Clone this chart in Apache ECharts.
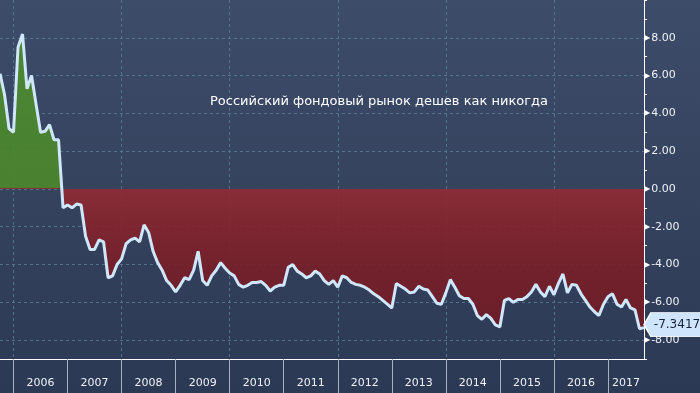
<!DOCTYPE html>
<html><head><meta charset="utf-8">
<script src="https://cdn.jsdelivr.net/npm/echarts@6/dist/echarts.min.js"></script>
<style>html,body{margin:0;padding:0;background:#34425e}#c{width:700px;height:393px}</style>
</head><body><div id="c"></div>
<script>
// First category: October 2005, monthly to September 2017
const startYear = 2005;
const startMonth = 10;
const values = [
  6.1, 5.0, 3.2, 3.0, 7.5, 8.2, 5.3, 6.0, 4.5, 3.0, 3.05, 3.4,
  2.6, 2.6, -1.0, -0.85, -1.0, -0.8, -0.85, -2.5, -3.2, -3.2, -2.7, -2.8,
  -4.7, -4.6, -4.0, -3.7, -2.9, -2.7, -2.6, -2.8, -1.9, -2.3, -3.3, -3.9,
  -4.3, -4.85, -5.1, -5.45, -5.1, -4.7, -4.8, -4.3, -3.3, -4.85, -5.1, -4.6,
  -4.3, -3.9, -4.2, -4.45, -4.6, -5.05, -5.2, -5.1, -4.95, -4.95, -4.9, -5.1,
  -5.4, -5.2, -5.1, -5.1, -4.15, -4.0, -4.35, -4.5, -4.7, -4.6, -4.35, -4.5,
  -4.85, -5.05, -4.85, -5.2, -4.6, -4.7, -4.95, -5.05, -5.1, -5.2, -5.35, -5.55,
  -5.7, -5.9, -6.1, -6.3, -5.0, -5.15, -5.3, -5.5, -5.45, -5.15, -5.3, -5.35,
  -5.7, -6.05, -6.1, -5.5, -4.8, -5.2, -5.65, -5.8, -5.8, -6.1, -6.7, -6.9,
  -6.65, -6.85, -7.2, -7.3, -5.9, -5.8, -6.0, -5.85, -5.85, -5.7, -5.45, -5.05,
  -5.45, -5.7, -5.15, -5.6, -5.0, -4.5, -5.5, -5.05, -5.1, -5.55, -5.9, -6.25,
  -6.5, -6.7, -6.1, -5.7, -5.55, -6.1, -6.25, -5.85, -6.3, -6.4, -7.4, -7.3417
];
const yLabelValues = [-8, -6, -4, -2, 0, 2, 4, 6, 8];
const chartTitle = 'Российский фондовый рынок дешев как никогда';

const months = [];
for (let i = 0; i < values.length; i++) {
  const k = startMonth - 1 + i;
  const y = startYear + Math.floor(k / 12);
  const m = k % 12 + 1;
  months.push(y + '-' + String(m).padStart(2, '0'));
}
// year label position: middle of each year's visible months
const yearIdx = {};
months.forEach((mm, i) => { const y = mm.slice(0, 4); (yearIdx[y] = yearIdx[y] || []).push(i); });
const labelIdx = new Set();
Object.keys(yearIdx).forEach(y => {
  const arr = yearIdx[y];
  if (arr.length >= 6) labelIdx.add(Math.floor((arr[0] + arr[arr.length - 1] + 1) / 2));
});
const lastIdx = values.length - 1;

const H = 393;
const red = (py, c) => ({ offset: py / H, color: c });
const areaGrad = {
  type: 'linear', x: 0, y: 0, x2: 0, y2: H, global: true,
  colorStops: [
    red(0, '#4f8c2f'), red(187.5, '#4a862c'),
    red(187.6, '#8f2b34'), red(205, '#8a2830'), red(230, '#82232c'),
    red(265, '#781f28'), red(330, '#701b24'), red(393, '#6a1921')
  ]
};

const chart = echarts.init(document.getElementById('c'));
chart.setOption({
  animation: false,
  backgroundColor: { type: 'linear', x: 0, y: 0, x2: 0, y2: 1,
    colorStops: [{ offset: 0, color: '#3d4c69' }, { offset: 1, color: '#2c3954' }] },
  title: { text: chartTitle, left: 205, top: 90,
    textStyle: { color: '#ffffff', fontSize: 13, fontWeight: 'normal', fontFamily: 'DejaVu Sans' } },
  grid: { left: -1, right: 56, top: -2, bottom: 34, containLabel: false },
  xAxis: {
    type: 'category', data: months, boundaryGap: false,
    axisLine: { show: true, onZero: false, lineStyle: { color: '#ffffff', width: 1 } },
    axisTick: { show: true, length: 34, inside: false,
      interval: (i) => months[i].endsWith('-01'),
      lineStyle: { color: '#a9b1be', width: 1 } },
    axisLabel: { show: true, interval: (i) => labelIdx.has(i), margin: 19,
      formatter: (v) => v.slice(0, 4), color: '#eef2f7', fontSize: 11, fontFamily: 'DejaVu Sans' },
    splitLine: { show: true, interval: (i) => months[i].endsWith('-01') && (+months[i].slice(0, 4)) % 2 === 0,
      lineStyle: { color: '#52738a', type: [3, 3], width: 1 } }
  },
  yAxis: {
    type: 'value', position: 'right', min: -9, max: 10, interval: 1,
    axisLine: { show: true, lineStyle: { color: '#ffffff', width: 1 } },
    axisTick: { show: true, length: 3, lineStyle: { color: '#ffffff' } },
    axisLabel: { show: true, margin: 0, fontFamily: 'DejaVu Sans', fontSize: 11, color: '#eef2f7',
      formatter: (v) => yLabelValues.indexOf(v) >= 0 ? '{t|▶}' + v.toFixed(2) : '',
      rich: { t: { fontSize: 8, color: '#ffffff', padding: [0, 1, 0, 0] } } },
    splitLine: { show: false }
  },
  series: [{
    type: 'line', data: values, symbol: 'none', z: 3,
    lineStyle: { color: '#cfe6fb', width: 3 },
    areaStyle: { color: areaGrad, opacity: 0.92 },
    markLine: { silent: true, symbol: 'none', z: 1,
      label: { show: false },
      lineStyle: { color: '#52738a', type: [3, 3], width: 1 },
      data: yLabelValues.map(v => ({ yAxis: v })) },
    markPoint: {
      symbol: 'path://M0,10 L7,0 L60,0 L60,20 L7,20 Z',
      symbolSize: [60, 24], symbolOffset: [30, -3], symbolKeepAspect: false,
      itemStyle: { color: '#cfe5fb', borderColor: '#ffffff', borderWidth: 1 },
      label: { show: true, position: 'inside', color: '#15203a', fontSize: 12, fontFamily: 'DejaVu Sans',
        offset: [3, 0], formatter: (p) => p.value.toFixed(4) },
      data: [{ coord: [months[lastIdx], values[lastIdx]], value: values[lastIdx] }]
    }
  }]
});
</script></body></html>
